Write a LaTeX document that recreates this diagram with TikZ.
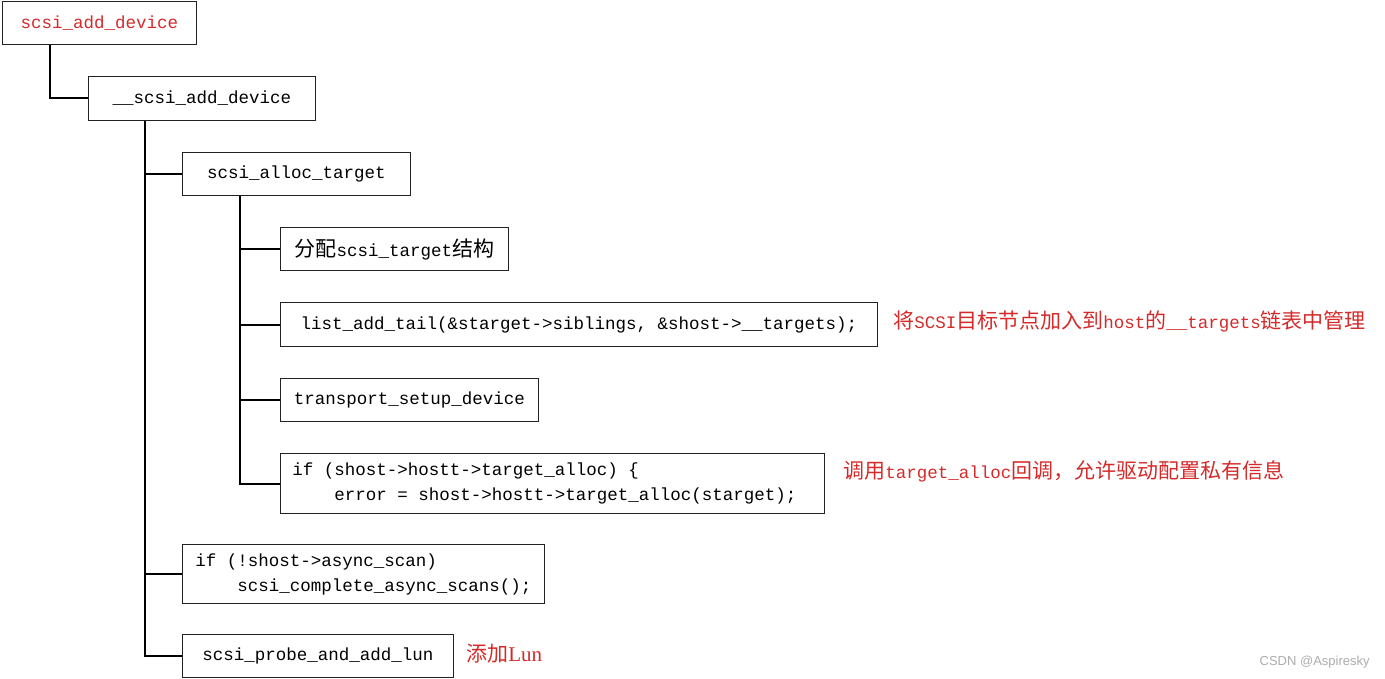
\documentclass[tikz,border=0pt]{standalone}
\usepackage{fontspec}
\setmainfont{Liberation Mono}
\newfontfamily\cjk[Scale=1.2]{Noto Sans CJK SC}
\newfontfamily\lunfont[Scale=1.2]{Liberation Serif}
\newfontfamily\markfont{Liberation Sans}
\usepackage{xcolor}
\definecolor{annred}{HTML}{D42A2A}
\definecolor{boxline}{HTML}{222222}
\frenchspacing

\begin{document}
\begin{tikzpicture}[x=0.5pt, y=-0.5pt, font=\fontsize{8.75}{12.5}\selectfont,
  box/.style={draw=boxline, line width=0.5pt, anchor=north west, inner sep=0pt, align=left},
  link/.style={line width=1pt},
  note/.style={text=annred, anchor=west, inner sep=0pt}]
\useasboundingbox (0,0) rectangle (1385,679);
% ---- top level calls ----------------------------------------------
\node[box, minimum width=97pt, minimum height=21.5pt, text=annred] (add) at (2,1) {scsi\_add\_device};
\node[box, minimum width=113.5pt, minimum height=22pt] (sadd) at (88,76) {\_\_scsi\_add\_device};
\node[box, minimum width=114pt, minimum height=21.5pt] (alloc) at (182,152) {scsi\_alloc\_target};
% ---- inside scsi_alloc_target -------------------------------------
\node[box, minimum width=114pt, minimum height=21.5pt] (fenpei) at (280,227) {{\cjk 分配}scsi\_target{\cjk 结构}};
\node[box, minimum width=298.5pt, minimum height=22pt] (listadd) at (280,302)
     {list\_add\_tail(\&starget->siblings, \&shost->\_\_targets);};
\node[box, minimum width=129pt, minimum height=21.5pt] (transport) at (280,378) {transport\_setup\_device};
\node[box, minimum width=272pt, minimum height=30pt] (talloc) at (280,453)
     {if (shost->hostt->target\_alloc) \{\\\hphantom{xxxx}error = shost->hostt->target\_alloc(starget);\hspace*{8pt}};
% ---- rest of __scsi_add_device ------------------------------------
\node[box, minimum width=181pt, minimum height=29.5pt] (async) at (182,544)
     {if (!shost->async\_scan)\\\hphantom{xxxx}scsi\_complete\_async\_scans();};
\node[box, minimum width=135.5pt, minimum height=21.5pt] (probe) at (182,634) {scsi\_probe\_and\_add\_lun};
% ---- notes --------------------------------------------------------
\node[note] (note1) at (893,321) {{\cjk 将}SCSI{\cjk 目标节点加入到}host{\cjk 的}\_\_targets{\cjk 链表中管理}};
\node[note] (note2) at (843,471) {{\cjk 调用}target\_alloc{\cjk 回调，允许驱动配置私有信息}};
\node[note] (note3) at (466,654) {{\cjk 添加}{\lunfont Lun}};
\node[anchor=east, inner sep=0pt, text=gray!65, font=\markfont\fontsize{6.5}{8}\selectfont] (mark) at (1370,662) {CSDN @Aspiresky};
% ---- tree lines ---------------------------------------------------
\coordinate (trunkA) at (50,0);
\coordinate (trunkB) at (145,0);
\coordinate (trunkC) at (240,0);
\draw[link] (trunkA |- add.south) |- (sadd.west);
\draw[link] (trunkB |- sadd.south) |- (probe.west);
\draw[link] (trunkB |- alloc.west) -- (alloc.west);
\draw[link] (trunkB |- async.west) -- (async.west);
\draw[link] (trunkC |- alloc.south) |- (talloc.west);
\foreach \n in {fenpei,listadd,transport}
  \draw[link] (trunkC |- \n.west) -- (\n.west);
\end{tikzpicture}
\end{document}
